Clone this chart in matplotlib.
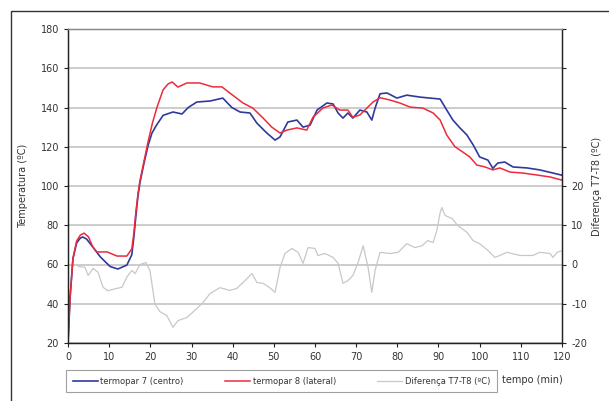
import matplotlib
matplotlib.use("Agg")
import matplotlib.pyplot as plt
from matplotlib.patches import Rectangle

# termopar 7 (centro)
t7_time = [0, 0.5, 1.2, 2.1, 3.0, 3.6, 4.5, 6, 7.8, 10.2,
           12.1, 14.3, 15.5, 16.0, 16.5, 17.0, 17.5, 18.5, 19.5, 20.4, 21.5,
           23.1, 25.5, 27.7, 29.2, 31.3, 34.5, 37.6, 39.8, 41.8, 44.2,
           45.9, 48.3, 50.3, 51.5, 53.4, 55.6, 57.1, 58.8, 60.5, 62.9,
           64.4, 65.6, 66.8, 68, 69.2, 70.9, 72.6, 73.8, 74.6, 75.8,
           77.5, 79.9, 82.3, 85.5, 90.4, 92, 93.5, 95.2, 96.9, 98.4,
           100, 102, 103.2, 104.4, 106.1, 108.1, 111.5, 114.6, 117.8, 120]
t7_temp = [20, 43, 63, 71, 73.5, 74, 73, 69, 64, 59,
           57.7, 59.7, 65, 74, 85, 95, 102, 112, 121, 127, 131,
           136, 137.7, 136.7, 140, 142.8, 143.3, 144.8, 140, 137.7, 137.2,
           132, 127, 123.4, 125, 132.6, 133.6, 130, 131, 138.7, 142.3,
           141.8, 137.2, 134.6, 137.2, 134.6, 138.7, 137.7, 133.6, 139.7, 147,
           147.4, 144.8, 146.3, 145.3, 144.3, 138.7, 133.6, 129.6, 126, 121,
           114.8, 113.2, 109, 111.7, 112.2, 109.7, 109.2, 108.2, 106.6, 105.5]

# termopar 8 (lateral)
t8_time = [0, 0.5, 1.2, 2.1, 3.0, 3.9, 5, 6, 7, 9.5,
           11.9, 14.3, 15.5, 16.0, 16.5, 17.0, 17.5, 18.5, 19.5, 20.5, 21.6,
           23.1, 24.3, 25.3, 26.7, 28.9, 32, 35.2, 37.4, 39.3, 42.5,
           44.9, 47.4, 49.5, 51.5, 53.2, 55.6, 58, 59.5, 61.9, 64.1,
           66, 68, 69.2, 70.9, 72.6, 74.1, 75.8, 78.2, 80.6, 83.1,
           86.2, 88.7, 90.4, 92, 94, 95.9, 97.6, 99.3, 101.3, 103.2,
           104.9, 107.4, 110.5, 113.9, 117.1, 120]
t8_temp = [20, 43, 63, 72, 75, 76, 74, 69, 66.4, 66.4,
           64.3, 64.3, 68, 76, 87, 96, 103, 113, 123, 132, 140,
           149, 152, 153, 150.4, 152.5, 152.5, 150.5, 150.5, 147.4, 142.3,
           139.7, 134.6, 130, 127, 128.5, 129.6, 128.5, 135, 139.7, 141.3,
           138.7, 138.7, 135, 136.2, 139.7, 142.8, 145, 143.8, 142.3, 140.2,
           139.7, 137.2, 133.6, 126, 120, 117.3, 114.8, 110.7, 109.7, 108.2,
           109.2, 107.1, 106.6, 105.6, 104.6, 103]

# Diferença T7-T8
dif_time = [2.5, 4.1, 4.9, 6.1, 7.3, 8.5, 9.7, 11.4, 13.1, 14.3,
            15.5, 16.3, 17.5, 18.9, 19.9, 21.1, 22.3, 24, 25.5, 26.7,
            28.9, 30.8, 32.8, 34.5, 36.9, 39.3, 41, 43, 44.7, 45.9,
            47.4, 49, 50.3, 51.5, 52.7, 54.4, 55.9, 57.1, 58.3, 60,
            60.7, 62.4, 64.4, 65.6, 66.8, 68, 69.2, 70.4, 71.7, 72.9,
            73.8, 74.6, 75.8, 78.2, 80.2, 82.3, 84.3, 86, 87.4, 88.7,
            89.6, 90.4, 90.8, 91.6, 93.3, 94.7, 96.9, 98.4, 100, 102,
            103.7, 104.9, 106.6, 109.8, 112.9, 114.6, 117.1, 117.8, 118.8, 120]
dif_val = [-0.5, -0.7, -2.8, -1, -2, -5.8, -6.7, -6.2, -5.8, -3.2,
           -1.5, -2.3, 0, 0.5, -1.5, -10, -12, -13, -16, -14.3,
           -13.5, -11.7, -9.7, -7.4, -5.9, -6.6, -6.1, -4.1, -2.3, -4.6,
           -4.8, -5.9, -7.1, -0.8, 2.8, 4.1, 3.1, 0.3, 4.3, 4.1,
           2.3, 2.8, 1.8, 0.3, -4.8, -4.1, -2.8, 0.3, 4.8, -0.8,
           -7.1, -1.5, 3.1, 2.8, 3.1, 5.3, 4.3, 4.8, 6.1, 5.6,
           8.7, 13.2, 14.5, 12.5, 11.7, 9.9, 8.2, 6.1, 5.3, 3.6,
           1.8, 2.3, 3.1, 2.3, 2.3, 3.1, 2.8, 1.8, 3.1, 3.5]

x_ticks = list(range(0, 121, 10))
left_ticks = list(range(20, 181, 20))
right_ticks = [-20, -10, 0, 10, 20, 30, 40, 50, 60]
right_labels = ["-20", "-10", "0", "10", "20", "", "", "", ""]

fs = 7
txt = "#333333"

fig = plt.figure(figsize=(6.09, 4.01), dpi=100)
ax = fig.add_axes([68 / 609, 58 / 401, 494 / 609, 314 / 401])
ax2 = ax.twinx()

ax.yaxis.grid(True, color="#c4c4c4", lw=1.2)
ax.set_axisbelow(True)

l1, = ax.plot(t7_time, t7_temp, color="#2f3a9c", lw=1.2, label="termopar 7 (centro)")
l2, = ax.plot(t8_time, t8_temp, color="#ec2b3b", lw=1.1, label="termopar 8 (lateral)")
l3, = ax2.plot(dif_time, dif_val, color="#c8c8c8", lw=0.9, label="Diferença T7-T8 (ºC)")

ax.set_xlim(0, 120)
ax.set_ylim(20, 180)
ax2.set_ylim(-20, 60)
ax.set_xticks(x_ticks)
ax.set_yticks(left_ticks)
ax2.set_yticks(right_ticks)
ax2.set_yticklabels(right_labels)

for a in (ax, ax2):
    a.tick_params(labelsize=fs, colors="#222222", labelcolor=txt, length=3, width=0.8)
    for s in a.spines.values():
        s.set_color("#222222")
        s.set_linewidth(0.9)
    a.spines["top"].set_color("#888888")

ax.set_ylabel("Temperatura (ºC)", fontsize=fs, color=txt, labelpad=9)
ax2.set_ylabel("Diferença T7-T8 (ºC)", fontsize=fs, color=txt, labelpad=4)

leg = fig.legend(handles=[l1, l2, l3], loc="center", ncol=3,
                 bbox_to_anchor=(281.5 / 609, 1 - 381 / 401),
                 fontsize=6, frameon=True, fancybox=False,
                 handlelength=3.0, handletextpad=0.3, columnspacing=5.0,
                 borderpad=0.8)
leg.get_frame().set_edgecolor("#888888")
leg.get_frame().set_linewidth(0.8)
for t in leg.get_texts():
    t.set_color(txt)

fig.text(532 / 609, 1 - 380 / 401, "tempo (min)", fontsize=fs, color=txt,
         ha="center", va="center")

fig.patches.append(Rectangle((11 / 609, -0.05), 1.1, 1 - 11 / 401 + 0.05,
                             transform=fig.transFigure, fill=False,
                             edgecolor="#333333", lw=1))

fig.savefig("out.png", dpi=100)
